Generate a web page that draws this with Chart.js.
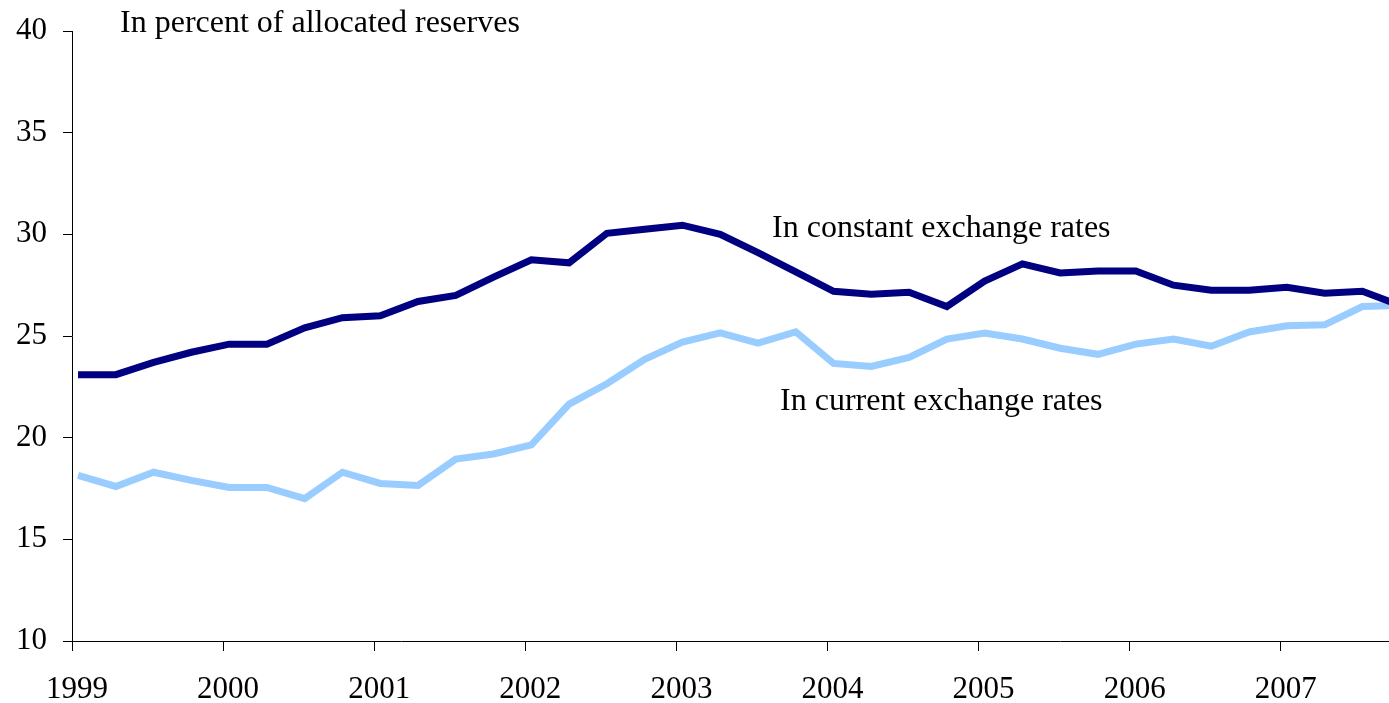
<!DOCTYPE html>
<html>
<head>
<meta charset="utf-8">
<script src="https://cdn.jsdelivr.net/npm/chart.js@4/dist/chart.umd.min.js"></script>
<style>
  html, body { margin: 0; padding: 0; background: #fff; }
  #wrap { width: 1389px; height: 703px; }
</style>
</head>
<body>
<div id="wrap"><canvas id="chart" width="1389" height="703"></canvas></div>
<script>
// quarterly observations, 1999Q1 .. 2007Q4
const quarters = [
  '1999Q1','1999Q2','1999Q3','1999Q4','2000Q1','2000Q2','2000Q3','2000Q4',
  '2001Q1','2001Q2','2001Q3','2001Q4','2002Q1','2002Q2','2002Q3','2002Q4',
  '2003Q1','2003Q2','2003Q3','2003Q4','2004Q1','2004Q2','2004Q3','2004Q4',
  '2005Q1','2005Q2','2005Q3','2005Q4','2006Q1','2006Q2','2006Q3','2006Q4',
  '2007Q1','2007Q2','2007Q3','2007Q4'
];

const constantRates = [
  23.1, 23.1, 23.7, 24.2, 24.6, 24.6, 25.4, 25.9,
  26.0, 26.7, 27.0, 27.9, 28.75, 28.6, 30.05, 30.25,
  30.45, 30.0, 29.1, 28.15, 27.2, 27.05, 27.15, 26.45,
  27.7, 28.55, 28.1, 28.2, 28.2, 27.5, 27.25, 27.25,
  27.4, 27.1, 27.2, 26.5
];

const currentRates = [
  18.15, 17.6, 18.3, 17.9, 17.55, 17.55, 17.0, 18.3,
  17.75, 17.65, 18.95, 19.2, 19.65, 21.65, 22.65, 23.85,
  24.7, 25.15, 24.65, 25.2, 23.65, 23.5, 23.95, 24.85,
  25.15, 24.85, 24.4, 24.1, 24.6, 24.85, 24.5, 25.2,
  25.5, 25.55, 26.45, 26.5
];

const yearTicks = [1999, 2000, 2001, 2002, 2003, 2004, 2005, 2006, 2007];
const yTicks = [10, 15, 20, 25, 30, 35, 40];

const titleText = 'In percent of allocated reserves';
const constantLabel = 'In constant exchange rates';
const currentLabel = 'In current exchange rates';

const FONT = "'Liberation Serif', 'Times New Roman', serif";

function quarter_to_x(q) {
  const year = parseInt(q.slice(0, 4), 10);
  const n = parseInt(q.slice(5), 10);
  return year + (n - 1) * 0.25 + 0.04;
}

function make_points(values) {
  return values.map((v, i) => ({ x: quarter_to_x(quarters[i]), y: v }));
}

// text labels drawn in data coordinates
const labelPlugin = {
  id: 'textLabels',
  afterDraw: (chart) => {
    const ctx = chart.ctx;
    const xs = chart.scales.x;
    const ys = chart.scales.y;
    ctx.save();
    ctx.font = '32px ' + FONT;
    ctx.fillStyle = '#000';
    ctx.textBaseline = 'middle';
    ctx.textAlign = 'left';
    ctx.fillText(titleText, xs.getPixelForValue(1999.318), ys.getPixelForValue(40.35));
    ctx.fillText(constantLabel, xs.getPixelForValue(2003.633), ys.getPixelForValue(30.26));
    ctx.fillText(currentLabel, xs.getPixelForValue(2003.686), ys.getPixelForValue(21.75));
    ctx.restore();
  }
};

const config = {
  type: 'line',
  data: {
    datasets: [
      {
        label: constantLabel,
        data: make_points(constantRates),
        borderColor: '#000080',
        borderWidth: 7,
        pointRadius: 0,
        tension: 0,
        fill: false
      },
      {
        label: currentLabel,
        data: make_points(currentRates),
        borderColor: '#99ccff',
        borderWidth: 7,
        pointRadius: 0,
        tension: 0,
        fill: false
      }
    ]
  },
  options: {
    responsive: false,
    animation: false,
    layout: { padding: { top: 31, right: 0, left: 0, bottom: 0 } },
    plugins: {
      legend: { display: false },
      tooltip: { enabled: false }
    },
    scales: {
      x: {
        type: 'linear',
        min: 1999,
        max: 1999 + 1317 / 151.1,
        afterFit: (scale) => {
          scale.height = 62;
          scale.paddingLeft = 0;
          scale.paddingRight = 0;
        },
        afterBuildTicks: (scale) => { scale.ticks = yearTicks.map(v => ({ value: v })); },
        grid: {
          drawOnChartArea: false,
          drawTicks: true,
          tickLength: 10,
          color: '#000'
        },
        border: { display: true, color: '#000', width: 1 },
        ticks: {
          autoSkip: false,
          maxRotation: 0,
          padding: 20,
          labelOffset: 5,
          color: '#000',
          font: { family: FONT, size: 31 },
          callback: (v) => String(v)
        }
      },
      y: {
        min: 10,
        max: 40,
        afterFit: (scale) => {
          scale.width = 72;
          scale.paddingTop = 0;
          scale.paddingBottom = 0;
        },
        afterBuildTicks: (scale) => { scale.ticks = yTicks.map(v => ({ value: v })); },
        grid: {
          drawOnChartArea: false,
          drawTicks: true,
          tickLength: 9,
          color: '#000'
        },
        border: { display: true, color: '#000', width: 1 },
        ticks: {
          padding: 16,
          color: '#000',
          font: { family: FONT, size: 31 }
        }
      }
    }
  },
  plugins: [labelPlugin]
};

new Chart(document.getElementById('chart'), config);
</script>
</body>
</html>
